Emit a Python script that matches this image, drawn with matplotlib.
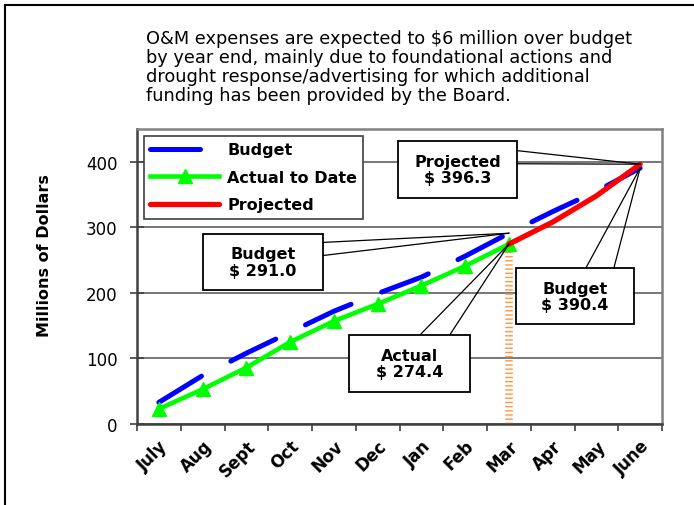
import matplotlib
matplotlib.use("Agg")
import matplotlib.pyplot as plt
from matplotlib.lines import Line2D

months = ["July", "Aug", "Sept", "Oct", "Nov", "Dec", "Jan", "Feb", "Mar", "Apr", "May", "June"]
budget = [33, 74, 108, 140, 172, 199, 224, 256, 291.0, 324, 355, 390.4]
actual = [23, 53, 86, 125, 157, 183, 211, 241, 274.4]
projected_months = ["Mar", "Apr", "May", "June"]
projected = [274.4, 308, 348, 396.3]

title_text = ("O&M expenses are expected to $6 million over budget\n"
              "by year end, mainly due to foundational actions and\n"
              "drought response/advertising for which additional\n"
              "funding has been provided by the Board.")

W, H = 694, 506
fig = plt.figure(figsize=(W / 100, H / 100), dpi=100)
ax = fig.add_axes([137 / W, 1 - 425 / H, (662 - 137) / W, (425 - 130) / H])

font = "DejaVu Sans"
x_all = list(range(len(months)))
x_act = x_all[:len(actual)]
x_proj = [months.index(m) for m in projected_months]
mar = months.index("Mar")
june = months.index("June")

# orange drop line at the last actual month
lw_o = 5.5
ax.plot([mar, mar], [0, actual[-1]], color="#ff9640", lw=lw_o,
        linestyle=(0, (1.0 / lw_o, 2.0 / lw_o)), solid_capstyle="butt", zorder=2)

lw_b = 3.6
ax.plot(x_all, budget, color="#0000ff", lw=lw_b, linestyle=(0, (10.0, 6.6)),
        dash_capstyle="round", label="Budget", zorder=3)
ax.plot(x_act, actual, color="#00ff00", lw=3.3, marker="^", markersize=10,
        label="Actual to Date", zorder=4)
ax.plot(x_proj, projected, color="#ff0000", lw=3.8, solid_capstyle="round",
        label="Projected", zorder=5)

ax.set_xlim(-0.5, len(months) - 0.5)
ax.set_ylim(0, 450)
ax.set_yticks([0, 100, 200, 300, 400])
ax.yaxis.grid(True, color="#606060", lw=1.2)
ax.set_axisbelow(True)
for s in ax.spines.values():
    s.set_color("#808080")
    s.set_linewidth(1.8)
ax.spines["left"].set_color("#404040")
ax.spines["bottom"].set_color("#404040")

ax.set_xticks(x_all)
ax.set_xticks([i - 0.5 for i in range(len(months) + 1)], minor=True)
ax.tick_params(axis="x", which="major", length=0, pad=9)
ax.tick_params(axis="x", which="minor", length=5, direction="out", width=1.2, color="#404040")
ax.set_xticklabels(months, rotation=45, ha="right", va="top", rotation_mode="anchor",
                   fontsize=12, fontweight="bold", family=font)
ax.tick_params(axis="y", length=10, direction="inout", width=1.2, pad=9,
               labelsize=12, color="#404040")
for t in ax.get_yticklabels():
    t.set_family(font)
ax.set_ylabel("Millions of Dollars", fontsize=11.5, fontweight="bold", family=font)
ax.yaxis.set_label_coords(-0.162, 0.576)

leg = ax.legend(loc="upper left", bbox_to_anchor=(7 / 525, 1 - 7 / 295), borderaxespad=0,
                handlelength=4.3, handletextpad=0.5, labelspacing=0.78, borderpad=0.4,
                fancybox=False, prop={"family": font, "weight": "bold", "size": 11.5},
                framealpha=1)
leg.get_frame().set_edgecolor("#404040")
leg.get_frame().set_linewidth(1.2)


def callout(text, box, anchors, target):
    (x0, x1), (y0, y1) = box
    ax.text((x0 + x1) / 2, (y0 + y1) / 2, text, ha="center", va="center", fontsize=11.5,
            fontweight="bold", family=font, zorder=7, linespacing=1.1)
    ax.add_patch(plt.Rectangle((x0, y0), x1 - x0, y1 - y0, facecolor="white",
                               edgecolor="black", lw=1.3, zorder=6))
    for a in anchors:
        ax.plot([a[0], target[0]], [a[1], target[1]], color="black", lw=0.9, zorder=6)


callout("Budget\n$ 291.0", ((1.01, 3.75), (204, 290)),
        [(3.75, 277), (3.75, 257)], (mar, budget[mar]))
callout("Projected\n$ 396.3", ((5.47, 8.19), (345, 432)),
        [(8.19, 417), (8.19, 397)], (june, projected[-1]))
callout("Budget\n$ 390.4", ((8.16, 10.86), (152, 238)),
        [(9.76, 238), (10.40, 238)], (june, budget[june]))
callout("Actual\n$ 274.4", ((4.35, 7.11), (49, 136)),
        [(5.97, 136), (6.65, 136)], (mar, actual[-1]))

fig.text(146 / W, 1 - 30 / H, title_text, ha="left", va="top", fontsize=12.8,
         family=font, linespacing=1.08)

# slide frame
fig.add_artist(Line2D([5 / W, 5 / W], [0, 1 - 6 / H], color="black", lw=1.5))
fig.add_artist(Line2D([5 / W, 1], [1 - 6 / H, 1 - 6 / H], color="black", lw=1.5))

fig.savefig("out.png", dpi=100)
